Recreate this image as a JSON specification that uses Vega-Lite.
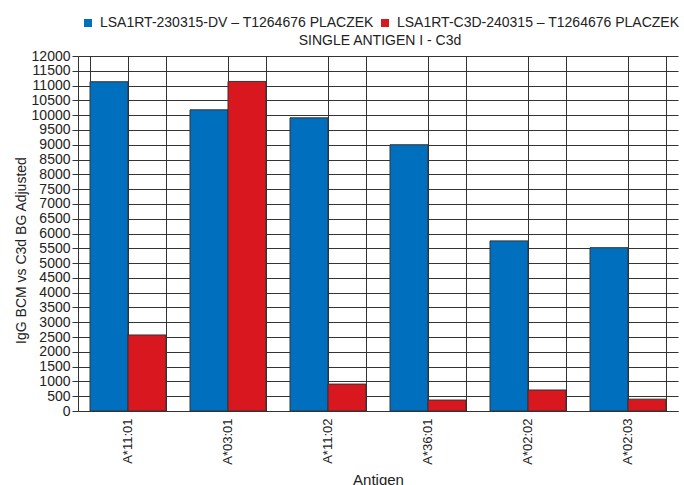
{
  "$schema": "https://vega.github.io/schema/vega-lite/v6.json",
  "width": 600,
  "height": 355,
  "autosize": {"type": "none"},
  "padding": {"left": 78, "top": 56, "right": 6, "bottom": 74},
  "config": {"font": "Liberation Sans", "view": {"stroke": null}},
  "data": {
    "values": [
      {"antigen": "A*11:01", "series": "LSA1RT-230315-DV – T1264676 PLACZEK", "value": 11130},
      {"antigen": "A*11:01", "series": "LSA1RT-C3D-240315 – T1264676 PLACZEK", "value": 2570},
      {"antigen": "A*03:01", "series": "LSA1RT-230315-DV – T1264676 PLACZEK", "value": 10180},
      {"antigen": "A*03:01", "series": "LSA1RT-C3D-240315 – T1264676 PLACZEK", "value": 11140},
      {"antigen": "A*11:02", "series": "LSA1RT-230315-DV – T1264676 PLACZEK", "value": 9910},
      {"antigen": "A*11:02", "series": "LSA1RT-C3D-240315 – T1264676 PLACZEK", "value": 910},
      {"antigen": "A*36:01", "series": "LSA1RT-230315-DV – T1264676 PLACZEK", "value": 9000},
      {"antigen": "A*36:01", "series": "LSA1RT-C3D-240315 – T1264676 PLACZEK", "value": 370},
      {"antigen": "A*02:02", "series": "LSA1RT-230315-DV – T1264676 PLACZEK", "value": 5750},
      {"antigen": "A*02:02", "series": "LSA1RT-C3D-240315 – T1264676 PLACZEK", "value": 710},
      {"antigen": "A*02:03", "series": "LSA1RT-230315-DV – T1264676 PLACZEK", "value": 5520},
      {"antigen": "A*02:03", "series": "LSA1RT-C3D-240315 – T1264676 PLACZEK", "value": 400}
    ]
  },
  "layer": [
    {
      "mark": {"type": "bar", "stroke": "#333", "strokeWidth": 1},
      "encoding": {
        "x": {
          "field": "antigen", "type": "nominal", "sort": null,
          "scale": {"paddingInner": 0.24, "paddingOuter": 0.12},
          "axis": {"orient": "bottom", "title": "Antigen", "labelAngle": -90, "labelFontSize": 13, "labelColor": "#222", "ticks": false, "labelPadding": 7, "grid": true, "gridColor": "#333", "domainColor": "#333", "titleFontSize": 15, "titleFontWeight": "normal", "titleColor": "#222", "titlePadding": 8}
        },
        "xOffset": {"field": "series", "type": "nominal", "sort": null},
        "y": {
          "field": "value", "type": "quantitative",
          "scale": {"domain": [0, 12000]},
          "axis": {"values": [0,500,1000,1500,2000,2500,3000,3500,4000,4500,5000,5500,6000,6500,7000,7500,8000,8500,9000,9500,10000,10500,11000,11500,12000], "format": "d", "grid": true, "gridColor": "#333", "tickColor": "#333", "tickSize": 6, "domainColor": "#333", "labelFontSize": 14, "labelColor": "#222", "labelPadding": 2, "labelOverlap": false, "title": "IgG BCM vs C3d BG Adjusted", "titleFontSize": 14, "titleFontWeight": "normal", "titleColor": "#222", "titleX": -50, "titleY": 194}
        },
        "color": {
          "field": "series", "type": "nominal", "sort": null,
          "scale": {"range": ["#0070BE", "#D9171F"]},
          "legend": {"orient": "none", "legendX": 3, "legendY": -40, "direction": "horizontal", "title": "SINGLE ANTIGEN I - C3d", "titleOrient": "bottom", "titleAnchor": "middle", "titleFontSize": 14, "titleFontWeight": "normal", "titleColor": "#222", "titlePadding": 4, "symbolType": "square", "symbolSize": 64, "symbolStrokeWidth": 0, "symbolOpacity": 1, "labelFontSize": 14, "labelColor": "#222", "columnPadding": 4, "labelOffset": 5, "labelLimit": 400}
        }
      }
    },
    {
      "mark": {"type": "bar", "opacity": 0},
      "encoding": {
        "x": {
          "field": "antigen", "type": "nominal", "sort": null,
          "scale": {"paddingInner": 0.24, "paddingOuter": 0.12},
          "axis": {"orient": "top", "tickBand": "extent", "grid": true, "gridColor": "#333", "labels": false, "ticks": false, "domain": false, "title": null}
        },
        "y": {
          "field": "value", "type": "quantitative",
          "scale": {"domain": [0, 12000]},
          "axis": {"values": [0,500,1000,1500,2000,2500,3000,3500,4000,4500,5000,5500,6000,6500,7000,7500,8000,8500,9000,9500,10000,10500,11000,11500,12000], "format": "d", "grid": true, "gridColor": "#333", "tickColor": "#333", "tickSize": 6, "domainColor": "#333", "labelFontSize": 14, "labelColor": "#222", "labelPadding": 2, "labelOverlap": false, "title": "IgG BCM vs C3d BG Adjusted", "titleFontSize": 14, "titleFontWeight": "normal", "titleColor": "#222", "titleX": -50, "titleY": 194}
        }
      }
    }
  ],
  "resolve": {"axis": {"x": "independent"}}
}
